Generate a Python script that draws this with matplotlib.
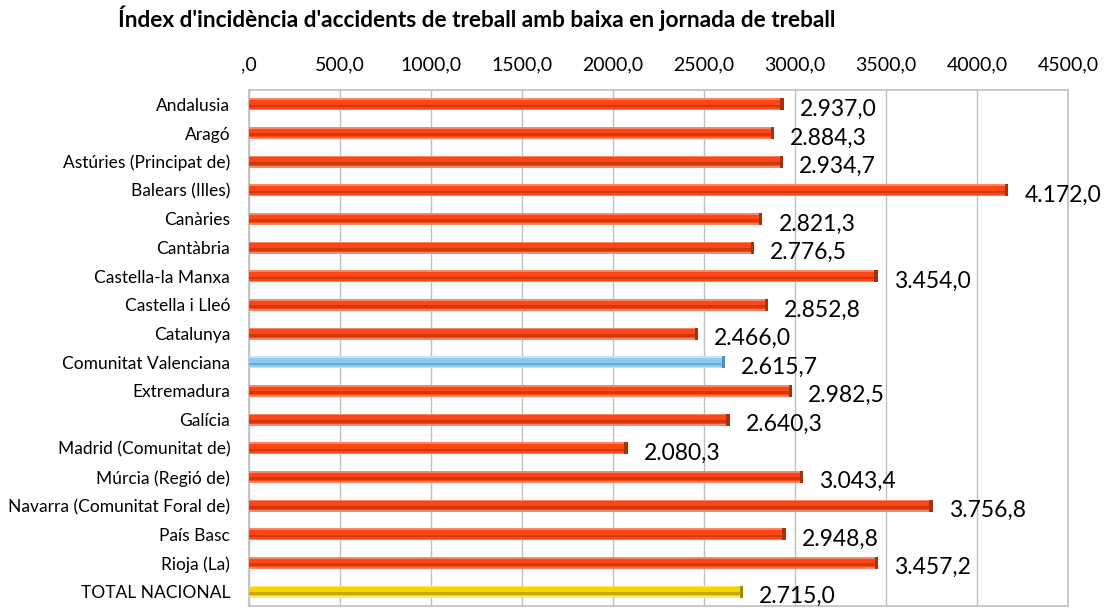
import matplotlib.pyplot as plt
from matplotlib.ticker import FuncFormatter

regions = ['Andalusia', 'Aragó', 'Astúries (Principat de)', 'Balears (Illes)',
           'Canàries', 'Cantàbria', 'Castella-la Manxa', 'Castella i Lleó',
           'Catalunya', 'Comunitat Valenciana', 'Extremadura', 'Galícia',
           'Madrid (Comunitat de)', 'Múrcia (Regió de)',
           'Navarra (Comunitat Foral de)', 'País Basc', 'Rioja (La)',
           'TOTAL NACIONAL']
values = [2937.0, 2884.3, 2934.7, 4172.0, 2821.3, 2776.5, 3454.0, 2852.8,
          2466.0, 2615.7, 2982.5, 2640.3, 2080.3, 3043.4, 3756.8, 2948.8,
          3457.2, 2715.0]

# base, dark stripe, light edge
red = ('#FF4512', '#A8300C', '#F7876A')
blue = ('#8FCBF0', '#4F8FB8', '#C6E4F7')
yellow = ('#F5D400', '#9E8A00', '#FBE870')


def fmt_es(v, dec=1):
    s = f'{v:,.{dec}f}'
    return s.replace(',', 'X').replace('.', ',').replace('X', '.')


fig = plt.figure(figsize=(11.11, 6.09), dpi=100)
ax = fig.add_axes([0.2241, 0.005, 0.7372, 0.8472])

for i, (name, v) in enumerate(zip(regions, values)):
    if name == 'Comunitat Valenciana':
        c = blue
    elif name == 'TOTAL NACIONAL':
        c = yellow
    else:
        c = red
    ax.barh(i, v, height=0.42, color=c[2], zorder=3)
    ax.barh(i, v, height=0.30, color=c[0], zorder=3)
    ax.barh(i + 0.06, v, height=0.10, color=c[1], alpha=0.55, zorder=3)
    ax.barh(i, 18, left=v - 18, height=0.42, color=c[1], zorder=4)
    ax.annotate(fmt_es(v), (v, i), xytext=(11.5, -3.5), textcoords='offset points',
                ha='left', va='center', fontsize=16.5, family='Lato', zorder=5)

ax.set_xlim(0, 4500)
ax.set_ylim(len(regions) - 0.5, -0.5)
ax.set_xticks(range(0, 4501, 500))
ax.xaxis.set_major_formatter(FuncFormatter(
    lambda x, p: ',0' if x == 0 else f'{x:.1f}'.replace('.', ',')))
ax.xaxis.tick_top()
ax.tick_params(axis='x', length=0, pad=12, labelsize=14)
ax.set_yticks(range(len(regions)))
ax.set_yticklabels(regions)
ax.tick_params(axis='y', length=0, pad=13.5, labelsize=12.5)
for lab in ax.get_xticklabels() + ax.get_yticklabels():
    lab.set_family('Lato')

ax.grid(axis='x', color='#BFBFBF', linewidth=1, zorder=0)
for sp in ax.spines.values():
    sp.set_color('#BFBFBF')
    sp.set_linewidth(1.2)

fig.text(0.106, 0.97, "Índex d'incidència d'accidents de treball amb baixa en jornada de treball",
         fontsize=16.3, fontweight='bold', family='Lato', ha='left', va='center')

fig.savefig('out.png', dpi=100)
